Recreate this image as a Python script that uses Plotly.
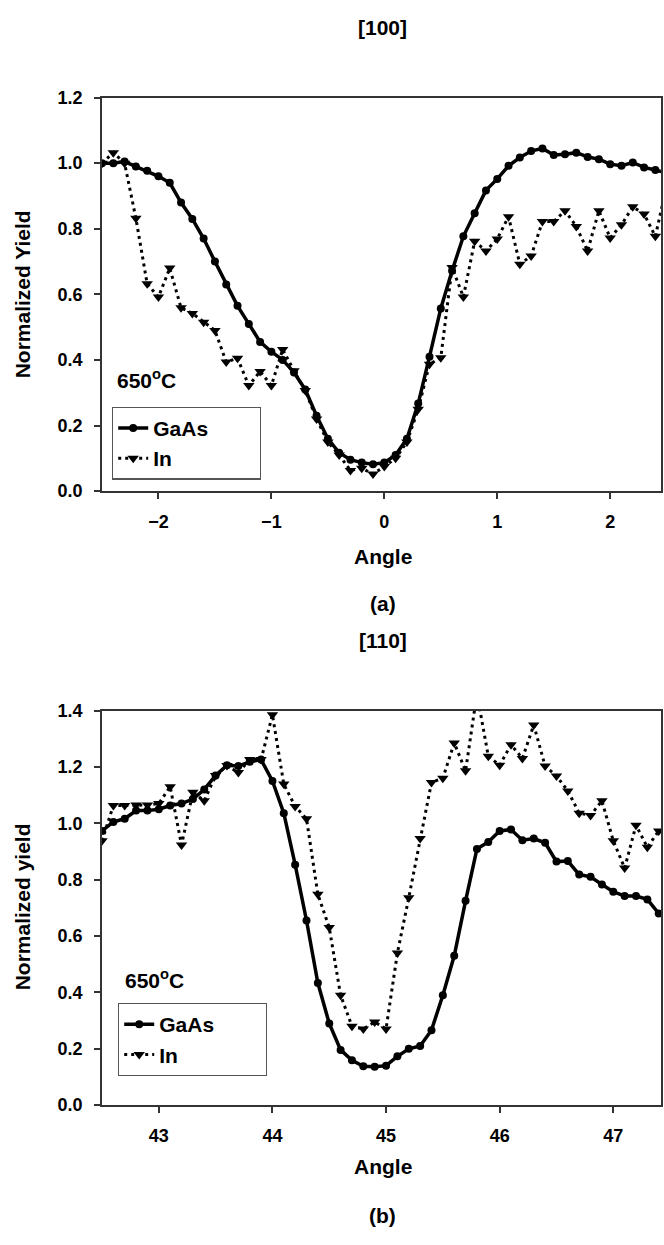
import plotly.graph_objects as go

# ---------------- data ----------------
angle_a = [round(-2.5 + 0.1 * i, 1) for i in range(51)]
gaas_a = [1.00, 1.00, 1.005, 0.99, 0.977, 0.96, 0.94, 0.88, 0.83, 0.77,
          0.70, 0.63, 0.565, 0.51, 0.455, 0.425, 0.40, 0.362, 0.31,
          0.23, 0.16, 0.117, 0.096, 0.087, 0.082, 0.087,
          0.11, 0.16, 0.267,
          0.41, 0.557, 0.672, 0.777, 0.847, 0.917, 0.952, 0.992, 1.017, 1.037,
          1.045, 1.025, 1.027, 1.032, 1.019, 1.012, 0.997, 0.992, 1.002, 0.987,
          0.979, 0.97]
in_a = [1.00, 1.032, 1.00, 0.832, 0.632, 0.592, 0.68, 0.559, 0.542, 0.515,
        0.49, 0.394, 0.405, 0.322, 0.365, 0.322, 0.432, 0.367, 0.307,
        0.22, 0.15, 0.11, 0.063, 0.07, 0.052, 0.075,
        0.10, 0.15, 0.25,
        0.387, 0.407, 0.682, 0.592, 0.762, 0.732, 0.769, 0.837, 0.692, 0.717,
        0.822, 0.822, 0.855, 0.807, 0.732, 0.855, 0.772, 0.812, 0.867, 0.845,
        0.777, 0.93]

angle_b = [round(42.5 + 0.1 * i, 1) for i in range(50)]
gaas_b = [0.973, 1.005, 1.016, 1.045, 1.045, 1.05, 1.063, 1.07, 1.086, 1.12,
          1.17, 1.206, 1.203, 1.218, 1.226,
          1.15, 1.036, 0.853, 0.655, 0.433, 0.29, 0.196, 0.159, 0.138, 0.136,
          0.14, 0.173, 0.20, 0.21, 0.266,
          0.39, 0.53, 0.725, 0.909, 0.934, 0.973, 0.978, 0.94, 0.946, 0.931,
          0.864, 0.866, 0.818, 0.81, 0.783, 0.757, 0.742, 0.742, 0.73, 0.68]
in_b = [0.938, 1.063, 1.063, 1.065, 1.065, 1.07, 1.13, 0.923, 1.11, 1.08,
        1.17, 1.205, 1.18, 1.226, 1.226,
        1.385, 1.139, 1.06, 1.016, 0.748, 0.63, 0.39, 0.28, 0.27, 0.295,
        0.27, 0.54, 0.736, 0.946, 1.145,
        1.16, 1.285, 1.186, 1.46, 1.238, 1.206, 1.279, 1.23, 1.349, 1.203,
        1.168, 1.115, 1.036, 1.028, 1.08, 0.938, 0.841, 0.993, 0.915, 0.973]

yticks_a = [0.0, 0.2, 0.4, 0.6, 0.8, 1.0, 1.2]
yticks_b = [0.0, 0.2, 0.4, 0.6, 0.8, 1.0, 1.2, 1.4]
xticks_a = [-2, -1, 0, 1, 2]
xticks_b = [43, 44, 45, 46, 47]

# ---------------- figure ----------------
W, H = 664, 1245
FONT = "Liberation Sans, Arial, sans-serif"

def px(x):
    return x / W

def py(y):
    return 1 - y / H

fig = go.Figure()

gaas_style = dict(mode="lines+markers", line=dict(color="black", width=3.5),
                  marker=dict(symbol="circle", size=8, color="black"))
in_style = dict(mode="lines+markers", line=dict(color="black", width=3, dash="3px,4px"),
                marker=dict(symbol="triangle-down", size=10, color="black"))

pad = "\u00a0" * 8
fig.add_trace(go.Scatter(x=angle_a, y=gaas_a, name="GaAs" + pad,
                         xaxis="x", yaxis="y", legend="legend", **gaas_style))
fig.add_trace(go.Scatter(x=angle_a, y=in_a, name="In",
                         xaxis="x", yaxis="y", legend="legend", **in_style))
fig.add_trace(go.Scatter(x=angle_b, y=gaas_b, name="GaAs" + pad,
                         xaxis="x2", yaxis="y2", legend="legend2", **gaas_style))
fig.add_trace(go.Scatter(x=angle_b, y=in_b, name="In",
                         xaxis="x2", yaxis="y2", legend="legend2", **in_style))

tickfont = dict(family=FONT, size=18, color="black", weight="bold")
axis_common = dict(showline=True, linecolor="#333333", linewidth=1.5, mirror=True,
                   ticks="outside", ticklen=6, tickcolor="#333333", tickwidth=1.5,
                   showgrid=False, zeroline=False, tickfont=tickfont)

xdom = [px(102), px(661)]
legend_font = dict(family=FONT, size=21, color="black", weight="bold")
fig.update_layout(
    width=W, height=H,
    margin=dict(l=0, r=0, t=0, b=0),
    paper_bgcolor="white", plot_bgcolor="white",
    showlegend=True,
    xaxis=dict(domain=xdom, range=[-2.5, 2.45], tickvals=xticks_a, anchor="y",
               ticklabelstandoff=8, **axis_common),
    yaxis=dict(domain=[py(489), py(89)], range=[0, 1.2], tickvals=yticks_a,
               tickformat=".1f", anchor="x", ticklabelstandoff=8, **axis_common),
    xaxis2=dict(domain=xdom, range=[42.5, 47.42], tickvals=xticks_b, anchor="y2",
                ticklabelstandoff=8, **axis_common),
    yaxis2=dict(domain=[py(1113), py(712)], range=[0, 1.4], tickvals=yticks_b,
                tickformat=".1f", anchor="x2", ticklabelstandoff=8, **axis_common),
    legend=dict(x=px(112), y=py(403), xanchor="left", yanchor="top",
                bordercolor="#555555", borderwidth=1.2, bgcolor="white",
                font=legend_font, tracegroupgap=0),
    legend2=dict(x=px(118), y=py(1009), xanchor="left", yanchor="top",
                 bordercolor="#555555", borderwidth=1.2, bgcolor="white",
                 font=legend_font, tracegroupgap=0),
)

def label(text, x, y, size=21, angle=0):
    fig.add_annotation(text=text, x=px(x), y=py(y), xref="paper", yref="paper",
                       showarrow=False, xanchor="center", yanchor="middle",
                       textangle=angle,
                       font=dict(family=FONT, size=size, color="black", weight="bold"))

label("[100]", 383, 18)
label("Normalized Yield", 22, 289, angle=-90)
label("650<sup>o</sup>C", 146, 375)
label("Angle", 383, 555)
label("(a)", 383, 603)
label("[110]", 383, 641)
label("Normalized yield", 22, 912, angle=-90)
label("650<sup>o</sup>C", 154, 985)
label("Angle", 383, 1175)
label("(b)", 383, 1225)

fig.write_html("out.html")
